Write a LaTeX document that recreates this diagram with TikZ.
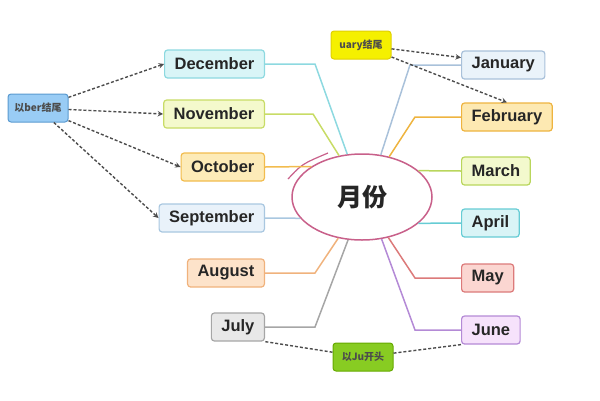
\documentclass[tikz,border=0pt]{standalone}
\usepackage{fontspec}
\setmainfont{Liberation Sans}
\newfontfamily\cjk{Noto Sans CJK SC}
\usetikzlibrary{shapes.geometric}
\definecolor{decC}{HTML}{8DD9E0}\definecolor{decF}{HTML}{D9F5F7}
\definecolor{novC}{HTML}{C8DC66}\definecolor{novF}{HTML}{F4F9CC}
\definecolor{octC}{HTML}{F2BC4E}\definecolor{octF}{HTML}{FDEBB8}
\definecolor{sepC}{HTML}{A9C7E0}\definecolor{sepF}{HTML}{E9F2FA}
\definecolor{augC}{HTML}{F0B27C}\definecolor{augF}{HTML}{FDE3CA}
\definecolor{julC}{HTML}{A6A6A6}\definecolor{julF}{HTML}{E8E8E8}
\definecolor{janC}{HTML}{A9C1DA}\definecolor{janF}{HTML}{EAF3FA}
\definecolor{febC}{HTML}{EEB440}\definecolor{febF}{HTML}{FDE9B2}
\definecolor{marC}{HTML}{B9D65C}\definecolor{marF}{HTML}{F3F9CD}
\definecolor{aprC}{HTML}{66CCD4}\definecolor{aprF}{HTML}{D9F4F6}
\definecolor{mayC}{HTML}{DC7A7A}\definecolor{mayF}{HTML}{FBD6D1}
\definecolor{junC}{HTML}{B48AD6}\definecolor{junF}{HTML}{F6E2FB}
\definecolor{ringC}{HTML}{C8608A}
\definecolor{berC}{HTML}{5A9AD0}\definecolor{berF}{HTML}{99CCF5}
\definecolor{uaryC}{HTML}{E0D000}\definecolor{uaryF}{HTML}{F5F000}
\definecolor{juC}{HTML}{66AA00}\definecolor{juF}{HTML}{88CC22}

\begin{document}
\begin{tikzpicture}[x=1pt, y=-1pt, >=stealth,
  box/.style={draw, rounded corners=3pt, line width=1.2pt, inner xsep=10pt, inner ysep=0pt, minimum height=28pt, font=\bfseries\fontsize{16.5}{18}\selectfont, text=black!85},
  tag/.style={draw, rounded corners=3pt, line width=1pt, inner xsep=5pt, inner ysep=0pt, minimum width=60pt, minimum height=28pt, font=\cjk\bfseries\fontsize{10}{12}\selectfont, text=black!70},
  link/.style={line width=1.5pt},
  hint/.style={draw=black!70, line width=1.4pt, dash pattern=on 3pt off 2pt}]
\useasboundingbox (0,0) rectangle (600,400);
\node[draw=ringC, line width=1.5pt, ellipse, minimum width=140pt, minimum height=86pt, font=\cjk\bfseries\fontsize{25}{27}\selectfont, text=black!85] (mon) at (362,197) {月份};
\draw[ringC, line width=1.2pt] (288,179) .. controls (302,164) .. (328,153);
\node[box, draw=decC, fill=decF, anchor=east] (dec) at (265,64) {December};
\node[box, draw=novC, fill=novF, anchor=east] (nov) at (265,114) {November};
\node[box, draw=octC, fill=octF, anchor=east] (oct) at (265,167) {October};
\node[box, draw=sepC, fill=sepF, anchor=east] (sep) at (265,218) {September};
\node[box, draw=augC, fill=augF, anchor=east] (aug) at (265,273) {August};
\node[box, draw=julC, fill=julF, anchor=east] (jul) at (265,327) {July};
\node[box, draw=janC, fill=janF, anchor=west] (jan) at (461,65) {January};
\node[box, draw=febC, fill=febF, anchor=west] (feb) at (461,117) {February};
\node[box, draw=marC, fill=marF, anchor=west] (mar) at (461,171) {March};
\node[box, draw=aprC, fill=aprF, anchor=west] (apr) at (461,223) {April};
\node[box, draw=mayC, fill=mayF, anchor=west] (may) at (461,278) {May};
\node[box, draw=junC, fill=junF, anchor=west] (jun) at (461,330) {June};
\node[tag, draw=berC, fill=berF] (ber) at (38,108) {以ber结尾};
\node[tag, draw=uaryC, fill=uaryF] (uary) at (361,45) {uary结尾};
\node[tag, draw=juC, fill=juF] (ju) at (363,357) {以Ju开头};
\draw[link, decC] (dec.east) -- (315,64) -- (mon.109);
\draw[link, novC] (nov.east) -- (313,114) -- (mon.119);
\draw[link, octC] (oct.east) -- (mon.149);
\draw[link, sepC] (sep.east) -- (mon.199);
\draw[link, augC] (aug.east) -- (315,273) -- (mon.240);
\draw[link, julC] (jul.east) -- (315,327) -- (mon.252);
\draw[link, janC] (jan.west) -- (410,65) -- (mon.66);
\draw[link, febC] (feb.west) -- (415,117) -- (mon.56);
\draw[link, marC] (mar.west) -- (mon.25);
\draw[link, aprC] (apr.west) -- (mon.335);
\draw[link, mayC] (may.west) -- (415,278) -- (mon.303);
\draw[link, junC] (jun.west) -- (415,330) -- (mon.295);
\draw[hint, ->] (ber) -- (dec.west);
\draw[hint, ->] (ber) -- (nov.west);
\draw[hint, ->] (ber) -- (oct.west);
\draw[hint, ->] (ber) -- (sep.west);
\draw[hint, ->] (uary) -- (jan.170);
\draw[hint, ->] (uary) -- (feb.north);
\draw[hint] (ju) -- (jul.south east);
\draw[hint] (ju) -- (jun.south west);
\end{tikzpicture}
\end{document}
